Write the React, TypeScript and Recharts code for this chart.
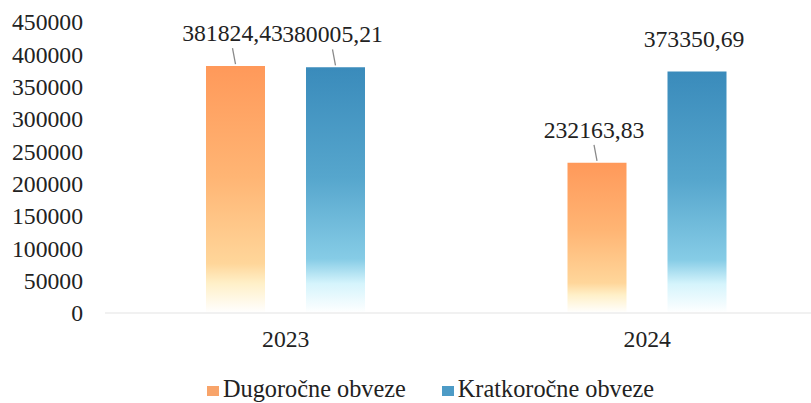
import React from 'react';
import { BarChart, Bar, XAxis, YAxis, LabelList } from 'recharts';

const categories = ['2023', '2024'];
const dugorocne = [381824.43, 232163.83];
const kratkorocne = [380005.21, 373350.69];
const yTicks = [0, 50000, 100000, 150000, 200000, 250000, 300000, 350000, 400000, 450000];
const seriesNames = ['Dugoročne obveze', 'Kratkoročne obveze'];

const data = categories.map((c, i) => ({ year: c, dug: dugorocne[i], krat: kratkorocne[i] }));

const FONT = 'Liberation Serif';
const TEXT = '#222222';
const legendColors = ['#F8A46A', '#4D9BC6'];

const fmt = (v: number) => v.toFixed(2).replace('.', ',');

const makeLabel = (series: string) => (props: any) => {
  const { x, y, width, value, index } = props;
  const cx = x + width / 2;
  const showLeader = !(series === 'krat' && index === 1);
  return (
    <g>
      {showLeader && (
        <line x1={cx - 3} y1={y - 18} x2={cx} y2={y - 2} stroke="#8a8a8a" strokeWidth={1.3} />
      )}
      <text x={cx - 3} y={y - 25} textAnchor="middle" style={{ fontFamily: FONT }} fontSize={23.7} fill={TEXT}>
        {fmt(value)}
      </text>
    </g>
  );
};

export default function App() {
  return (
    <div style={{ position: 'absolute', left: 0, top: 0, width: 811, height: 403, overflow: 'hidden', background: '#fff', fontFamily: FONT }}>
      <BarChart width={830} height={403} data={data} margin={{ top: 22, right: 2, left: 0, bottom: 60 }} barSize={59} barGap={41} style={{ fontFamily: FONT }}>
        <defs>
          <linearGradient id="gOrange" x1="0" y1="0" x2="0" y2="1">
            <stop offset="0" stopColor="#FF995A" />
            <stop offset="0.45" stopColor="#FFB574" />
            <stop offset="0.8" stopColor="#FFD69A" />
            <stop offset="0.88" stopColor="#FFF0C8" />
            <stop offset="1" stopColor="#FFFFFF" />
          </linearGradient>
          <linearGradient id="gBlue" x1="0" y1="0" x2="0" y2="1">
            <stop offset="0" stopColor="#3A8BBB" />
            <stop offset="0.45" stopColor="#56A6CD" />
            <stop offset="0.78" stopColor="#86CCE6" />
            <stop offset="0.88" stopColor="#D5F4FC" />
            <stop offset="1" stopColor="#FFFFFF" />
          </linearGradient>
        </defs>
        <XAxis
          dataKey="year"
          height={30}
          axisLine={{ stroke: '#ececec', strokeWidth: 1.5 }}
          tickLine={false}
          tickSize={0}
          tickMargin={17}
          tick={{ fontFamily: FONT, fontSize: 23.7, fill: TEXT }}
        />
        <YAxis
          domain={[0, 450000]}
          ticks={yTicks}
          width={105}
          axisLine={false}
          tickLine={false}
          tickSize={0}
          tickMargin={22}
          interval={0}
          tick={{ fontFamily: FONT, fontSize: 23.7, fill: TEXT }}
        />
        <Bar dataKey="dug" name={seriesNames[0]} fill="url(#gOrange)" isAnimationActive={false}>
          <LabelList dataKey="dug" content={makeLabel('dug')} />
        </Bar>
        <Bar dataKey="krat" name={seriesNames[1]} fill="url(#gBlue)" isAnimationActive={false}>
          <LabelList dataKey="krat" content={makeLabel('krat')} />
        </Bar>
      </BarChart>
      <div style={{ position: 'absolute', top: 375, left: 207, display: 'flex', alignItems: 'center', fontFamily: FONT, fontSize: 24.3, color: TEXT, whiteSpace: 'nowrap', lineHeight: '27px' }}>
        {seriesNames.map((n, i) => (
          <div key={n} style={{ display: 'flex', alignItems: 'center', marginRight: i === 0 ? 36 : 0 }}>
            <span style={{ display: 'inline-block', width: 12, height: 10, background: legendColors[i], marginRight: 4, marginTop: 4 }} />
            <span>{n}</span>
          </div>
        ))}
      </div>
    </div>
  );
}
